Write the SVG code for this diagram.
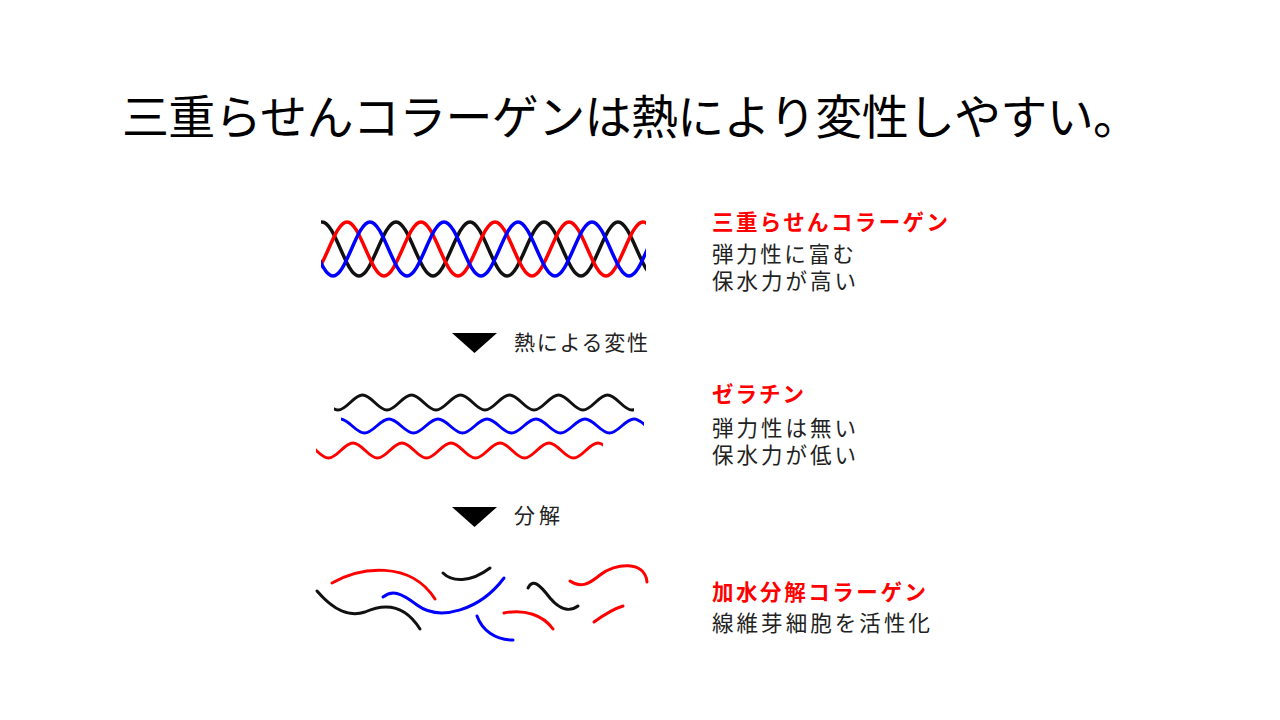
<svg xmlns="http://www.w3.org/2000/svg" width="1280" height="720" viewBox="0 0 1280 720">
<defs>
<clipPath id="ch"><rect x="321" y="200" width="325" height="100"/></clipPath>
<clipPath id="cb"><rect x="334" y="380" width="300" height="40"/></clipPath>
<clipPath id="cu"><rect x="341" y="405" width="303" height="40"/></clipPath>
<clipPath id="cr"><rect x="316" y="430" width="287" height="40"/></clipPath>
</defs>
<style>
text{font-family:"Noto Sans CJK JP","Noto Sans",sans-serif;fill:#222}
.h{font-weight:bold;fill:#ff0000}
.s{fill:none;stroke-width:3.5;stroke-linecap:round}
.f{fill:none;stroke-width:3;stroke-linecap:round}
.k{stroke:#111}.r{stroke:#ff0000}.b{stroke:#0000ff}
</style>
<rect width="1280" height="720" fill="#fff"/>
<text x="122" y="134" font-size="47" textLength="1018" lengthAdjust="spacing" style="fill:#000">三重らせんコラーゲンは熱により変性しやすい。</text>
<g id="helix" clip-path="url(#ch)">
<path class="s k" d="M322,222 C335.3,222 345.7,276 359,276 S382.7,222 396,222 S419.7,276 433,276 S456.7,222 470,222 S493.7,276 507,276 S530.7,222 544,222 S567.7,276 581,276 S604.7,222 618,222 S641.7,276 655,276"/>
<path class="s r" d="M310,276 C323.3,276 333.7,222 347,222 S370.7,276 384,276 S407.7,222 421,222 S444.7,276 458,276 S481.7,222 495,222 S518.7,276 532,276 S555.7,222 569,222 S592.7,276 606,276 S629.7,222 643,222 S666.7,276 680,276"/>
<path class="s b" d="M296,222 C309.3,222 319.7,276 333,276 S356.7,222 370,222 S393.7,276 407,276 S430.7,222 444,222 S467.7,276 481,276 S504.7,222 518,222 S541.7,276 555,276 S578.7,222 592,222 S615.7,276 629,276 S652.7,222 666,222"/>
</g>
<g id="label1">
<text class="h" x="712" y="230" font-size="21.5" textLength="236" lengthAdjust="spacing">三重らせんコラーゲン</text>
<text x="712" y="262" font-size="21.5" textLength="142" lengthAdjust="spacing">弾力性に富む</text>
<text x="712" y="289" font-size="21.5" textLength="144" lengthAdjust="spacing">保水力が高い</text>
</g>
<g id="arrow1">
<polygon points="452,333 497,333 474.5,353" fill="#000"/>
<text x="514" y="350" font-size="21" textLength="134" lengthAdjust="spacing">熱による変性</text>
</g>
<g id="gelatin">
<path class="f k" clip-path="url(#cb)" d="M313.5,395 C322.3,395 329.2,410 338,410 S353.7,395 362.5,395 S378.2,410 387,410 S402.7,395 411.5,395 S427.2,410 436,410 S451.7,395 460.5,395 S476.2,410 485,410 S500.7,395 509.5,395 S525.2,410 534,410 S549.7,395 558.5,395 S574.2,410 583,410 S598.7,395 607.5,395 S623.2,410 632,410 S647.7,395 656.5,395"/>
<path class="f b" clip-path="url(#cu)" d="M315.5,433 C324.3,433 331.2,419 340,419 S355.7,433 364.5,433 S380.2,419 389,419 S404.7,433 413.5,433 S429.2,419 438,419 S453.7,433 462.5,433 S478.2,419 487,419 S502.7,433 511.5,433 S527.2,419 536,419 S551.7,433 560.5,433 S576.2,419 585,419 S600.7,433 609.5,433 S625.2,419 634,419 S649.7,433 658.5,433"/>
<path class="f r" clip-path="url(#cr)" d="M304,443 C312.8,443 319.7,458 328.5,458 S344.2,443 353,443 S368.7,458 377.5,458 S393.2,443 402,443 S417.7,458 426.5,458 S442.2,443 451,443 S466.7,458 475.5,458 S491.2,443 500,443 S515.7,458 524.5,458 S540.2,443 549,443 S564.7,458 573.5,458 S589.2,443 598,443 S613.7,458 622.5,458"/>
</g>
<g id="label2">
<text class="h" x="712" y="402" font-size="21.5" textLength="92" lengthAdjust="spacing">ゼラチン</text>
<text x="712" y="436" font-size="21.5" textLength="144" lengthAdjust="spacing">弾力性は無い</text>
<text x="712" y="463" font-size="21.5" textLength="144" lengthAdjust="spacing">保水力が低い</text>
</g>
<g id="arrow2">
<polygon points="452,507 497,507 474.5,527" fill="#000"/>
<text x="514" y="523" font-size="21" textLength="46" lengthAdjust="spacing">分解</text>
</g>
<g id="fragments">
<path class="f r" d="M332,583 C360,567 410,560 435,599"/>
<path class="f k" d="M317,591 C335,612 350,617 365,612 C385,603 405,605 420,629"/>
<path class="f b" d="M383,597 C392,590 400,592 417,605 C440,622 480,610 504,578"/>
<path class="f k" d="M443,573 C452,582 470,583 490,568"/>
<path class="f b" d="M477,616 C482,630 495,640 513,640"/>
<path class="f k" d="M528,588 C533,578 540,585 550,598 C560,610 570,612 578,606"/>
<path class="f r" d="M504,613 C525,609 543,615 553,629"/>
<path class="f r" d="M570,581 C580,588 588,585 600,575 C615,563 645,560 647,582"/>
<path class="f r" d="M594,622 C605,614 613,609 623,606"/>
</g>
<g id="label3">
<text class="h" x="712" y="600" font-size="21.5" textLength="214" lengthAdjust="spacing">加水分解コラーゲン</text>
<text x="712" y="631" font-size="21.5" textLength="218" lengthAdjust="spacing">線維芽細胞を活性化</text>
</g>
</svg>
